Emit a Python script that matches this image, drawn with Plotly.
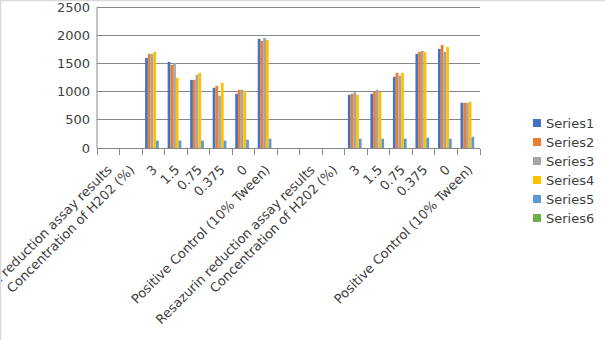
import plotly.graph_objects as go

# Category labels (two blocks of the assay table laid out along the x axis)
categories = [
    "Resazurin reduction assay results", "Concentration of H202 (%)",
    "3", "1.5", "0.75", "0.375", "0", "Positive Control (10% Tween)",
    "",
    "Resazurin reduction assay results", "Concentration of H202 (%)",
    "3", "1.5", "0.75", "0.375", "0", "Positive Control (10% Tween)",
]

series1 = [None, None, 1600, 1530, 1210, 1070, 965, 1938, None, None, None, 945, 963, 1265, 1672, 1760, 803]
series2 = [None, None, 1672, 1477, 1210, 1105, 1035, 1902, None, None, None, 963, 998, 1335, 1707, 1832, 803]
series3 = [None, None, 1672, 1510, 1300, 928, 1035, 1955, None, None, None, 990, 1034, 1282, 1725, 1707, 803]
series4 = [None, None, 1707, 1246, 1335, 1158, 1016, 1920, None, None, None, 945, 998, 1335, 1707, 1796, 821]
series5 = [None, None, 132, 132, 132, 132, 147, 165, None, None, None, 165, 165, 165, 183, 165, 200]
series6 = [None, None, 0, 0, 0, 0, 0, 0, None, None, None, 0, 0, 0, 0, 0, 0]

y_ticks = [0, 500, 1000, 1500, 2000, 2500]

series_names = ["Series1", "Series2", "Series3", "Series4", "Series5", "Series6"]
series_values = [series1, series2, series3, series4, series5, series6]
colors = ["#4472C4", "#ED7D31", "#A5A5A5", "#FFC000", "#5B9BD5", "#70AD47"]

# Repeated labels need distinct category keys; pad them with zero-width spaces
seen = {}
keys = []
for c in categories:
    n = seen.get(c, 0)
    seen[c] = n + 1
    keys.append(c + "\u200b" * (n + (1 if c == "" else 0)))

fig = go.Figure()
for name, vals, col in zip(series_names, series_values, colors):
    fig.add_trace(go.Bar(name=name, x=keys, y=vals, marker_color=col,
                         marker_line_width=0, showlegend=False))

W, H = 605, 340
L, R, T, B = 97, 125, 5, 192
pw, ph = W - L - R, H - T - B
Y_TOP = 2540  # a little headroom so the 2500 gridline sits inside the plot


def px_x(x):
    """Figure pixel column -> paper x."""
    return (x - L) / pw


def px_y(y):
    """Figure pixel row -> paper y."""
    return (H - B - y) / ph


# Legend drawn as small squares with labels beside them
shapes = []
annotations = []
for i, (name, col) in enumerate(zip(series_names, colors)):
    cy = 123 + 19 * i
    shapes.append(dict(type="rect", xref="paper", yref="paper",
                       x0=px_x(533), x1=px_x(541), y0=px_y(cy + 4), y1=px_y(cy - 4),
                       fillcolor=col, line=dict(width=0)))
    annotations.append(dict(text=name, xref="paper", yref="paper",
                            x=px_x(544), y=px_y(cy), xanchor="left", yanchor="middle",
                            showarrow=False, font=dict(size=13, color="#404040")))

# Light chart-area border along the top and left edges
shapes.append(dict(type="line", xref="paper", yref="paper",
                   x0=px_x(0), x1=px_x(W), y0=px_y(0.5), y1=px_y(0.5),
                   line=dict(color="#D9D9D9", width=1.5)))
shapes.append(dict(type="line", xref="paper", yref="paper",
                   x0=px_x(0.5), x1=px_x(0.5), y0=px_y(0), y1=px_y(H),
                   line=dict(color="#D9D9D9", width=1.5)))

# Plain y-axis line from 0 up to the top gridline
shapes.append(dict(type="line", xref="paper", yref="y",
                   x0=0, x1=0, y0=0, y1=y_ticks[-1],
                   line=dict(color="#878787", width=1)))

fig.update_layout(
    width=W, height=H,
    margin=dict(l=L, r=R, t=T, b=B, autoexpand=False),
    paper_bgcolor="white", plot_bgcolor="white",
    font=dict(family="DejaVu Sans", size=13, color="#404040"),
    barmode="group", bargap=0.27, bargroupgap=0,
    showlegend=False,
    xaxis=dict(type="category", tickson="boundaries", tickangle=-45,
               ticks="outside", ticklen=6, tickcolor="#878787",
               showgrid=False, showline=True, linecolor="#878787",
               linewidth=1, range=[-0.5, len(categories) - 0.5],
               automargin=False, ticklabelstandoff=8),
    yaxis=dict(range=[0, Y_TOP], tickvals=y_ticks,
               showgrid=True, gridcolor="#878787", gridwidth=1, showline=False,
               ticks="", zeroline=False, ticklabeloverflow="allow",
               automargin=False, ticklabelstandoff=6),
    shapes=shapes,
    annotations=annotations,
)

fig.write_html("out.html")
